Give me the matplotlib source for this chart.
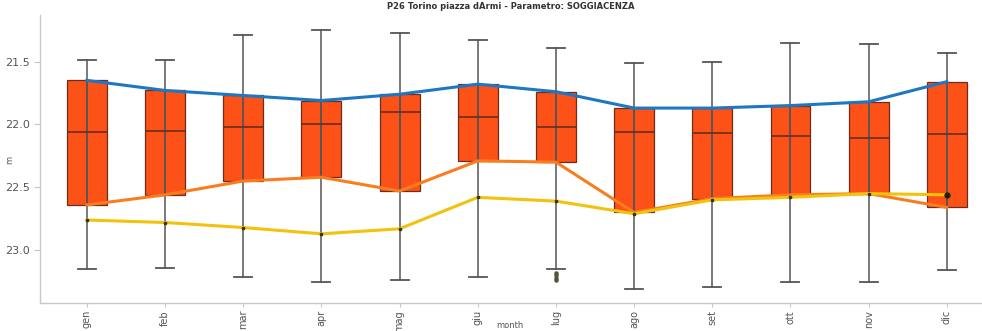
import matplotlib
matplotlib.use("Agg")
import matplotlib.pyplot as plt
import numpy as np

# -------------------------------------------------------
# Monthly statistics for water-table depth (m)
# -------------------------------------------------------
months = ["gen", "feb", "mar", "apr", "mag", "giu",
          "lug", "ago", "set", "ott", "nov", "dic"]

whisker_hi = [21.49, 21.49, 21.29, 21.25, 21.27, 21.33, 21.39, 21.51, 21.50, 21.35, 21.36, 21.43]
q1 = [21.65, 21.73, 21.77, 21.81, 21.76, 21.68, 21.74, 21.87, 21.87, 21.85, 21.82, 21.66]
median = [22.06, 22.05, 22.02, 22.00, 21.90, 21.94, 22.02, 22.06, 22.07, 22.09, 22.11, 22.08]
q3 = [22.64, 22.56, 22.45, 22.42, 22.53, 22.29, 22.30, 22.70, 22.59, 22.56, 22.55, 22.66]
whisker_lo = [23.15, 23.14, 23.21, 23.25, 23.24, 23.21, 23.15, 23.31, 23.29, 23.25, 23.25, 23.16]

# outliers below the July whisker
outliers_lug = [23.18, 23.20, 23.22, 23.24]

# latest year readings
last_year = [22.76, 22.78, 22.82, 22.87, 22.83, 22.58, 22.61, 22.71, 22.60, 22.58, 22.55, 22.56]

BOX_COLOR = "#fc5117"
EDGE_COLOR = "#6b2e1c"
GRID_GRAY = "#c8c8c8"
TEXT_GRAY = "#555555"

fig = plt.figure(figsize=(9.82, 3.31), dpi=100)
ax = fig.add_axes([40 / 982, 28 / 331, 942 / 982, 288 / 331])

stats = []
for i, m in enumerate(months):
    stats.append({
        "label": m,
        "whislo": whisker_lo[i],
        "q1": q1[i],
        "med": median[i],
        "q3": q3[i],
        "whishi": whisker_hi[i],
        "fliers": outliers_lug if m == "lug" else [],
    })

x = np.arange(len(months))
ax.bxp(stats, positions=x, widths=0.51, patch_artist=True,
       boxprops=dict(facecolor=BOX_COLOR, edgecolor=EDGE_COLOR, linewidth=0.9),
       medianprops=dict(color=EDGE_COLOR, linewidth=1.2),
       whiskerprops=dict(color="#555555", linewidth=1.1),
       capprops=dict(color="#555555", linewidth=1.3),
       flierprops=dict(marker="o", markersize=2.2, markerfacecolor="#555533",
                       markeredgecolor="#555533"),
       capwidths=0.23)

# lines connecting quartiles and last year's values
ax.plot(x, q1, color="#1f77c4", linewidth=2.2, zorder=5)
ax.plot(x, q3, color="#f97d1f", linewidth=2.2, zorder=5)
ax.plot(x, last_year, color="#f2c20c", linewidth=2.2, zorder=6,
        marker="o", markersize=1.6, markerfacecolor="#333300", markeredgecolor="#333300")
ax.plot(x[-1], last_year[-1], "o", color="#222200", markersize=3.5, zorder=7)

ax.set_xlim(-0.6, 11.45)
ax.set_ylim(23.42, 21.13)
ax.set_yticks([21.5, 22.0, 22.5, 23.0])
ax.set_yticklabels(["21.5", "22.0", "22.5", "23.0"])
ax.set_xticks(x)
ax.set_xticklabels(months, rotation=90)

ax.tick_params(axis="both", colors=GRID_GRAY, labelcolor=TEXT_GRAY, labelsize=8, length=4)
ax.tick_params(axis="x", length=3, labelsize=7, pad=2)
for side in ["top", "right"]:
    ax.spines[side].set_visible(False)
for side in ["left", "bottom"]:
    ax.spines[side].set_color(GRID_GRAY)
    ax.spines[side].set_linewidth(1.0)

ax.set_ylabel("m", fontsize=6, color=TEXT_GRAY, rotation=90)
ax.yaxis.set_label_coords(-26 / 942, (303 - 160) / 288)
ax.set_xlabel("month", fontsize=6, color=TEXT_GRAY)
ax.xaxis.set_label_coords((510 - 40) / 942, -18 / 288)
ax.set_title("P26 Torino piazza dArmi - Parametro: SOGGIACENZA",
             fontsize=6, fontweight="bold", color="#333333", pad=4)

fig.savefig("out.png", dpi=100)
